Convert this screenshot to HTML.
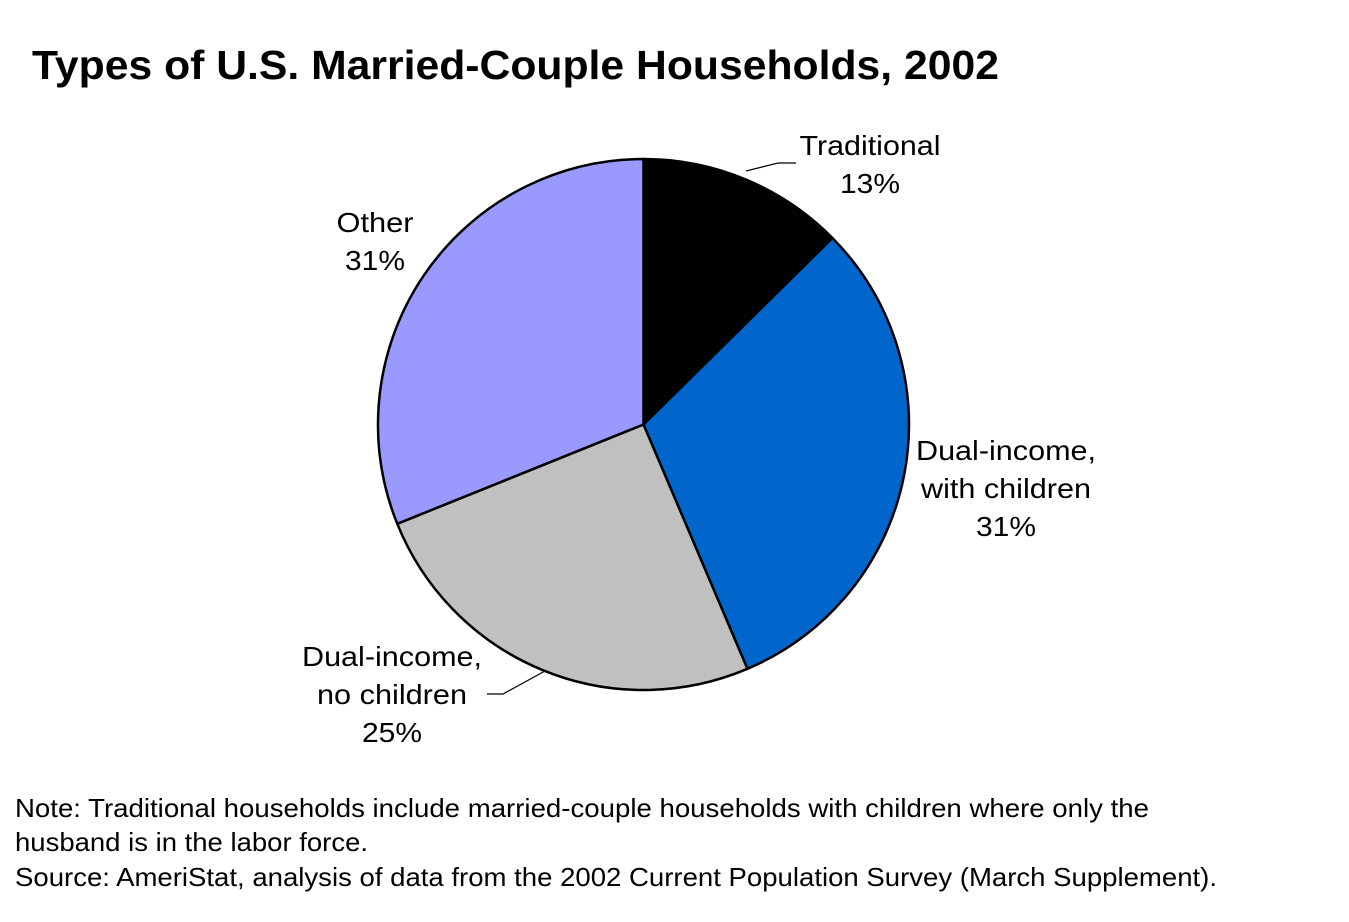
<!DOCTYPE html>
<html><head><meta charset="utf-8"><style>
body{margin:0;background:#fff;width:1349px;height:917px;overflow:hidden;font-family:"Liberation Sans",Arial,sans-serif;}
</style></head><body>
<svg width="1349" height="917" font-family="Liberation Sans, Arial, sans-serif">
<text x="32" y="79" font-size="41" font-weight="bold" textLength="967" lengthAdjust="spacingAndGlyphs">Types of U.S. Married-Couple Households, 2002</text>
<g id="pie"></g>
<g font-size="28" text-anchor="middle" fill="#000">
<text x="870" y="155" textLength="141" lengthAdjust="spacingAndGlyphs">Traditional</text>
<text x="870" y="193" textLength="60" lengthAdjust="spacingAndGlyphs">13%</text>
<text x="1006" y="460" textLength="180" lengthAdjust="spacingAndGlyphs">Dual-income,</text>
<text x="1006" y="498" textLength="170" lengthAdjust="spacingAndGlyphs">with children</text>
<text x="1006" y="536" textLength="60" lengthAdjust="spacingAndGlyphs">31%</text>
<text x="392" y="666" textLength="180" lengthAdjust="spacingAndGlyphs">Dual-income,</text>
<text x="392" y="704" textLength="150" lengthAdjust="spacingAndGlyphs">no children</text>
<text x="392" y="742" textLength="60" lengthAdjust="spacingAndGlyphs">25%</text>
<text x="375" y="232" textLength="77" lengthAdjust="spacingAndGlyphs">Other</text>
<text x="375" y="270" textLength="60" lengthAdjust="spacingAndGlyphs">31%</text>
</g>
<polyline points="746,171 778,163 796,163" fill="none" stroke="#000" stroke-width="1.2"/>
<polyline points="487,694 503,694 545,671" fill="none" stroke="#000" stroke-width="1.2"/>
<g font-size="26" fill="#000">
<text x="15" y="817" textLength="1134" lengthAdjust="spacingAndGlyphs">Note: Traditional households include married-couple households with children where only the</text>
<text x="15" y="851" textLength="353" lengthAdjust="spacingAndGlyphs">husband is in the labor force.</text>
<text x="15" y="886" textLength="1202" lengthAdjust="spacingAndGlyphs">Source: AmeriStat, analysis of data from the 2002 Current Population Survey (March Supplement).</text>
</g>
</svg>
<script>
const categories=["Traditional","Dual-income, with children","Dual-income, no children","Other"];
const values=[12.6,31.0,25.3,31.1];
const colors=["#000000","#0066CC","#C0C0C0","#9999FF"];
const cx=643.5,cy=424.5,r=265.5;
const g=document.getElementById('pie');
const total=values.reduce((a,b)=>a+b,0);
let a0=0;
const pt=a=>[cx+r*Math.sin(a),cy-r*Math.cos(a)];
values.forEach((v,i)=>{
  const a1=a0+v/total*2*Math.PI;
  const p0=pt(a0),p1=pt(a1);
  const large=(a1-a0)>Math.PI?1:0;
  const p=document.createElementNS('http://www.w3.org/2000/svg','path');
  p.setAttribute('d',`M${cx},${cy} L${p0[0]},${p0[1]} A${r},${r} 0 ${large} 1 ${p1[0]},${p1[1]} Z`);
  p.setAttribute('fill',colors[i]);
  p.setAttribute('stroke','#000');
  p.setAttribute('stroke-width','2.5');
  p.setAttribute('stroke-linejoin','round');
  
  
  g.appendChild(p);
  a0=a1;
});
</script>
</body></html>
